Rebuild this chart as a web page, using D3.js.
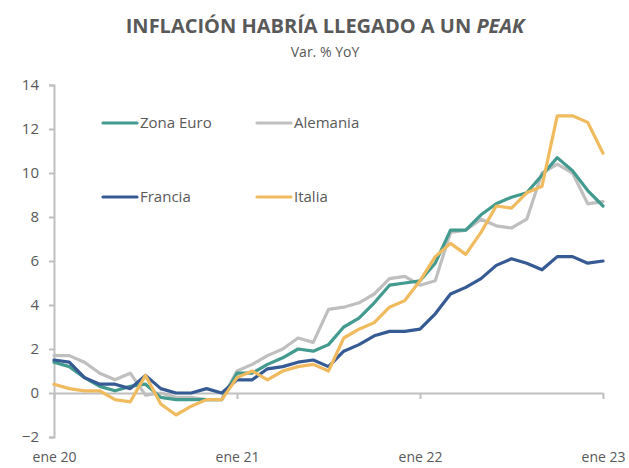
<!DOCTYPE html>
<html>
<head>
<meta charset="utf-8">
<script src="https://cdn.jsdelivr.net/npm/d3@7/dist/d3.min.js"></script>
<style>
  html, body { margin: 0; padding: 0; background: #fff; }
  svg { display: block; }
</style>
</head>
<body>
<svg id="chart" width="629" height="468"></svg>
<script>
// ---- Data ----
const months = [
  "ene 20","feb 20","mar 20","abr 20","may 20","jun 20","jul 20","ago 20","sep 20","oct 20","nov 20","dic 20",
  "ene 21","feb 21","mar 21","abr 21","may 21","jun 21","jul 21","ago 21","sep 21","oct 21","nov 21","dic 21",
  "ene 22","feb 22","mar 22","abr 22","may 22","jun 22","jul 22","ago 22","sep 22","oct 22","nov 22","dic 22",
  "ene 23"
];
const xTickLabels = ["ene 20","ene 21","ene 22","ene 23"];
const yTicks = [-2, 0, 2, 4, 6, 8, 10, 12, 14];

const zonaEuro = [1.4,1.2,0.7,0.3,0.1,0.3,0.4,-0.2,-0.3,-0.3,-0.3,-0.3,
                  0.9,0.9,1.3,1.6,2.0,1.9,2.2,3.0,3.4,4.1,4.9,5.0,
                  5.1,5.9,7.4,7.4,8.1,8.6,8.9,9.1,9.9,10.7,10.1,9.2,8.5];
const alemania = [1.7,1.7,1.4,0.9,0.6,0.9,-0.1,0.0,-0.2,-0.2,-0.3,-0.3,
                  1.0,1.3,1.7,2.0,2.5,2.3,3.8,3.9,4.1,4.5,5.2,5.3,
                  4.9,5.1,7.3,7.4,7.9,7.6,7.5,7.9,10.0,10.4,10.0,8.6,8.7];
const francia  = [1.5,1.4,0.7,0.4,0.4,0.2,0.8,0.2,0.0,0.0,0.2,0.0,
                  0.6,0.6,1.1,1.2,1.4,1.5,1.2,1.9,2.2,2.6,2.8,2.8,
                  2.9,3.6,4.5,4.8,5.2,5.8,6.1,5.9,5.6,6.2,6.2,5.9,6.0];
const italia   = [0.4,0.2,0.1,0.1,-0.3,-0.4,0.8,-0.5,-1.0,-0.6,-0.3,-0.3,
                  0.7,1.0,0.6,1.0,1.2,1.3,1.0,2.5,2.9,3.2,3.9,4.2,
                  5.1,6.2,6.8,6.3,7.3,8.5,8.4,9.1,9.4,12.6,12.6,12.3,10.9];

const seriesNames = ["Zona Euro","Alemania","Francia","Italia"];
const seriesColors = ["#439A8E","#BFBFBF","#355A94","#F0BB5E"];
const seriesValues = [zonaEuro, alemania, francia, italia];

// ---- Layout ----
const svg = d3.select("#chart");
const textColor = "#595959";
const axisColor = "#BFBFBF";
const font = "'Open Sans', sans-serif";

const x = d3.scalePoint().domain(months).range([54, 603]);
const y = d3.scaleLinear().domain([-2, 14]).range([437, 85]);

// Title
const title = svg.append("text")
  .attr("x", 325).attr("y", 33)
  .attr("text-anchor", "middle")
  .attr("font-family", font)
  .attr("font-size", 20)
  .attr("font-weight", "bold")
  .attr("fill", textColor);
title.append("tspan").text("INFLACIÓN HABRÍA LLEGADO A UN ");
title.append("tspan").attr("font-style", "italic").text("PEAK");

svg.append("text")
  .attr("x", 325).attr("y", 57)
  .attr("text-anchor", "middle")
  .attr("font-family", font)
  .attr("font-size", 14)
  .attr("fill", textColor)
  .text("Var. % YoY");

// Y axis
const yAxis = svg.append("g")
  .attr("transform", "translate(54,0)")
  .call(d3.axisLeft(y).tickValues(yTicks).tickSize(5).tickPadding(10).tickFormat(d3.format("d")));
yAxis.select(".domain").attr("stroke", axisColor).attr("stroke-width", 2);
yAxis.selectAll(".tick line").attr("stroke", axisColor).attr("stroke-width", 2);
yAxis.selectAll(".tick text")
  .attr("fill", textColor).attr("font-family", font).attr("font-size", 15);

// X axis at zero
const xAxis = svg.append("g")
  .attr("transform", `translate(0,${y(0)})`)
  .call(d3.axisBottom(x).tickValues(xTickLabels).tickSize(6).tickSizeOuter(0));
xAxis.select(".domain").attr("stroke", axisColor).attr("stroke-width", 2);
xAxis.selectAll(".tick line").attr("stroke", axisColor).attr("stroke-width", 2);
xAxis.selectAll(".tick text")
  .attr("fill", textColor).attr("font-family", font).attr("font-size", 14)
  .attr("y", y(-2) - y(0) + 20).attr("dy", "0.35em");

// Lines
const line = d3.line()
  .x((d, i) => x(months[i]))
  .y(d => y(d));

const drawOrder = [1, 0, 2, 3];
drawOrder.forEach(k => {
  svg.append("path")
    .datum(seriesValues[k])
    .attr("fill", "none")
    .attr("stroke", seriesColors[k])
    .attr("stroke-width", 3.2)
    .attr("stroke-linejoin", "round")
    .attr("stroke-linecap", "round")
    .attr("d", line);
});

// Legend
const legendPos = [[103, 123], [257, 123], [103, 197], [257, 197]];
seriesNames.forEach((name, k) => {
  const [lx, ly] = legendPos[k];
  const g = svg.append("g").attr("transform", `translate(${lx},${ly})`);
  g.append("line")
    .attr("x1", 0).attr("x2", 34).attr("y1", 0).attr("y2", 0)
    .attr("stroke", seriesColors[k]).attr("stroke-width", 3.2)
    .attr("stroke-linecap", "round");
  g.append("text")
    .attr("x", 37).attr("y", 0).attr("dy", "0.35em")
    .attr("font-family", font).attr("font-size", 15)
    .attr("fill", textColor)
    .text(name);
});
</script>
</body>
</html>
